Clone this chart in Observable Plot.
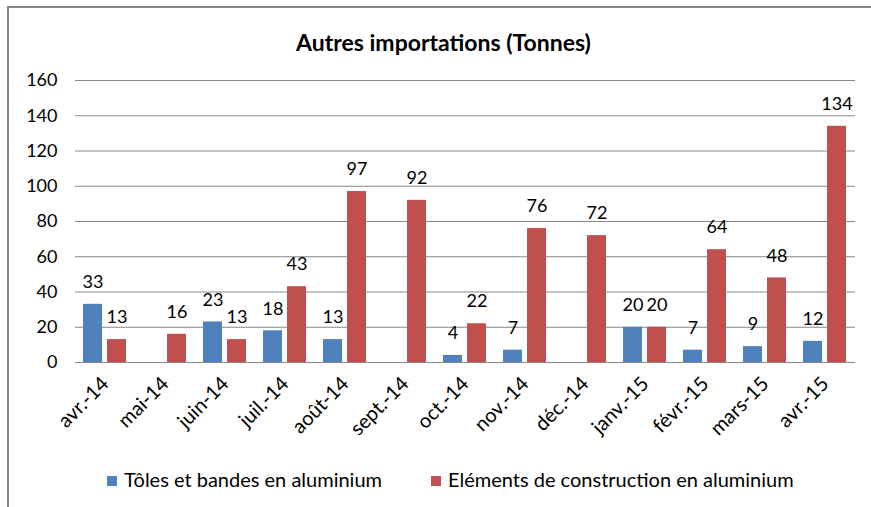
<!DOCTYPE html>
<html><head><meta charset="utf-8">
<script src="https://cdn.jsdelivr.net/npm/d3@7"></script>
<script src="https://cdn.jsdelivr.net/npm/@observablehq/plot@0.6"></script>
<style>
body{margin:0;background:#fff;font-family:Lato,"Open Sans",sans-serif;color:#000;}
#wrap{position:relative;width:871px;height:507px;overflow:hidden;background:#fff;}
#frame{position:absolute;left:7px;top:6px;width:900px;height:600px;border-left:2px solid #868686;border-top:2px solid #868686;box-sizing:border-box;}
#title{position:absolute;left:16px;top:28px;width:855px;text-align:center;font-weight:bold;font-size:23px;line-height:28px;}
#chart{position:absolute;left:0;top:62px;}
#legend{position:absolute;left:0;top:465px;width:871px;height:28px;font-size:20px;line-height:28px;}
.li{position:absolute;top:0;white-space:nowrap;}
.sw{display:inline-block;width:10px;height:10px;margin-right:7px;vertical-align:1px;}
</style>
</head><body>
<div id="wrap">
<div id="frame"></div>
<div id="title"></div>
<div id="chart"></div>
<div id="legend"></div>
</div>
<script>
const chartTitle = "Autres importations (Tonnes)";
const months = ["avr.-14","mai-14","juin-14","juil.-14","août-14","sept.-14","oct.-14","nov.-14","déc.-14","janv.-15","févr.-15","mars-15","avr.-15"];
const seriesNames = ["Tôles et bandes en aluminium","Eléments de construction en aluminium"];
const seriesColors = ["#4F81BD","#C0504D"];
const tolesValues = [33,null,23,18,13,null,4,7,null,20,7,9,12];
const elementsValues = [13,16,13,43,97,92,22,76,72,20,64,48,134];
const yTicks = [0,20,40,60,80,100,120,140,160];

const data = [];
months.forEach((m,i)=>{
  if (tolesValues[i] != null) data.push({month:m, series:seriesNames[0], value:tolesValues[i]});
  if (elementsValues[i] != null) data.push({month:m, series:seriesNames[1], value:elementsValues[i]});
});

document.getElementById("title").textContent = chartTitle;

const plot = Plot.plot({
  width: 871,
  height: 395,
  marginLeft: 73,
  marginRight: 14,
  marginTop: 18,
  marginBottom: 95,
  style: {fontFamily: 'Lato,"Open Sans",sans-serif', fontSize: "18px", color: "#000", background: "transparent"},
  fx: {domain: months, padding: 0},
  x: {domain: seriesNames, axis: null, paddingInner: 0.2, paddingOuter: 0.306},
  y: {domain: [0,160]},
  color: {domain: seriesNames, range: seriesColors},
  marks: [
    Plot.ruleY(yTicks, {stroke: "#868686", strokeWidth: 1}),
    Plot.axisY({ticks: yTicks, tickSize: 0, tickPadding: 18, fontSize: 18, label: null}),
    Plot.axisFx({anchor: "bottom", tickRotate: -45, tickSize: 0, tickPadding: 18, fontSize: 20, label: null}),
    Plot.barY(data, {fx: "month", x: "series", y: "value", fill: "series"}),
    Plot.text(data, {fx: "month", x: "series", y: "value", text: d => String(d.value), dy: -22, fontSize: 18, fill: "#000"})
  ]
});
document.getElementById("chart").appendChild(plot);

const legend = document.getElementById("legend");
const legendX = [107, 431];
seriesNames.forEach((s,i)=>{
  const item = document.createElement("div");
  item.className = "li";
  item.style.left = legendX[i] + "px";
  const sw = document.createElement("span");
  sw.className = "sw";
  sw.style.background = seriesColors[i];
  item.appendChild(sw);
  item.appendChild(document.createTextNode(s));
  legend.appendChild(item);
});
</script>
</body></html>
